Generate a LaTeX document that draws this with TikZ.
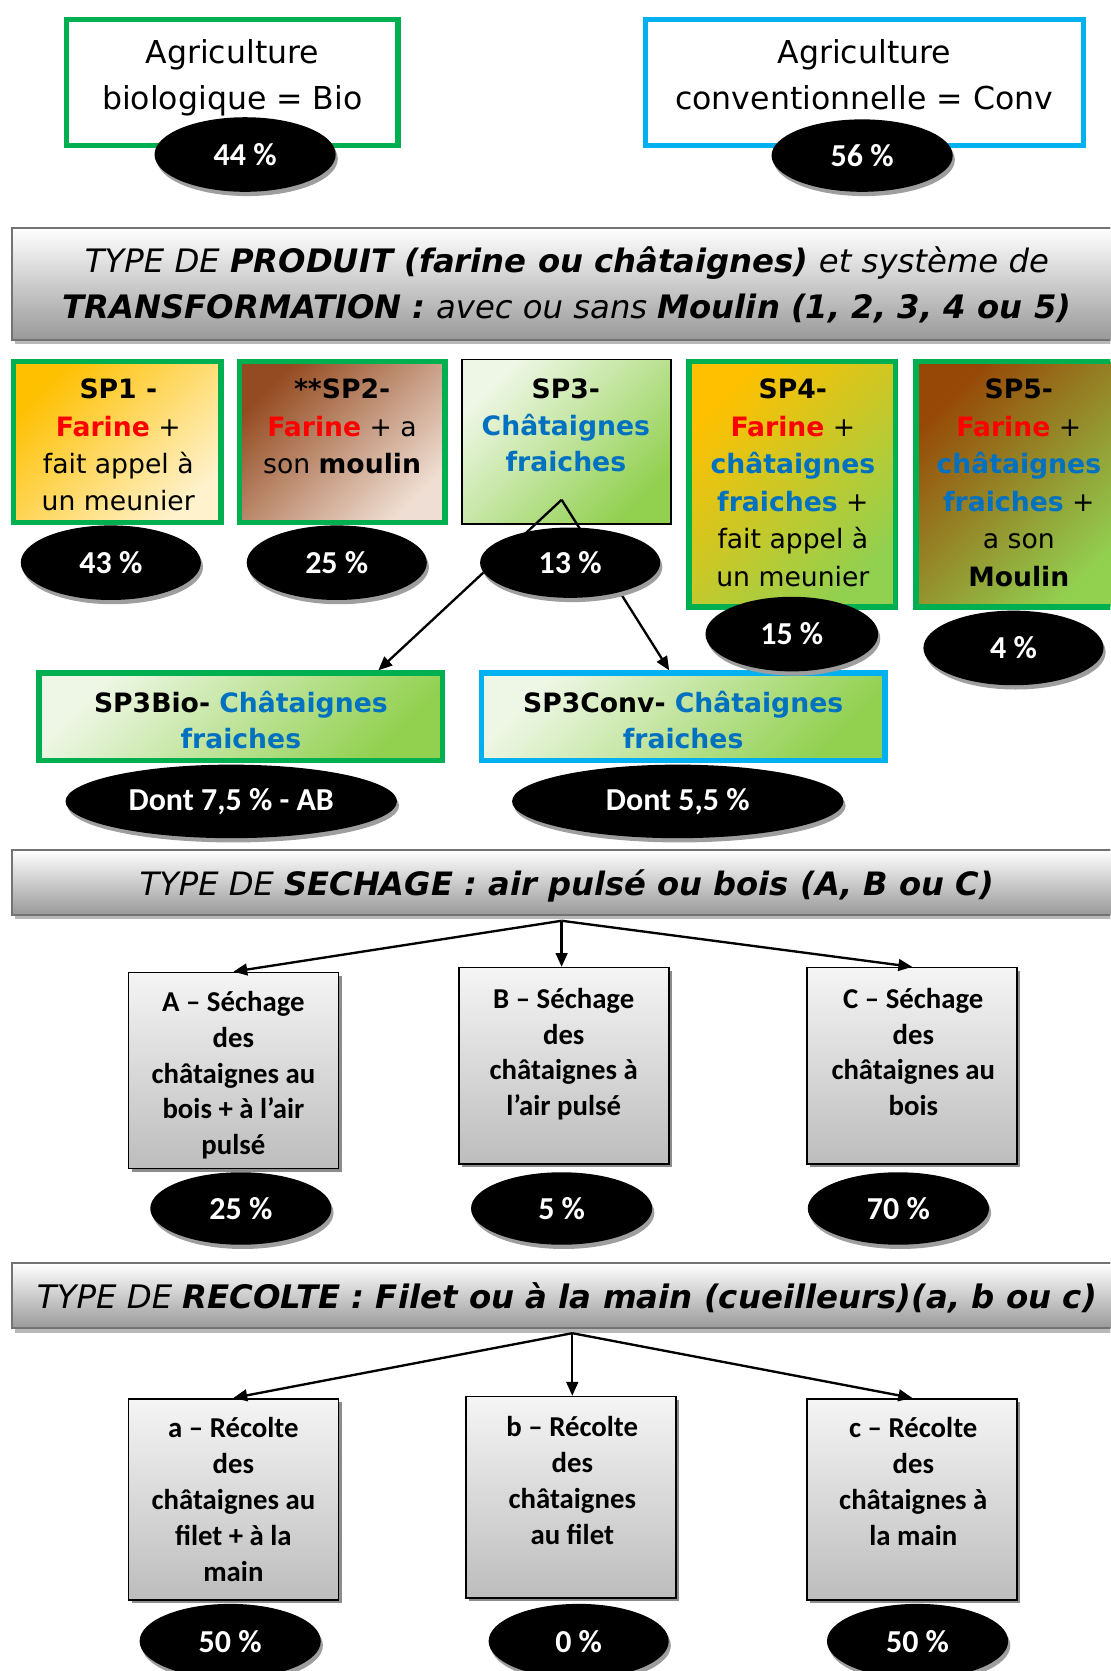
\documentclass[tikz,border=0pt]{standalone}
\usepackage{fontspec}
\setmainfont{DejaVu Sans}[ItalicFont={DejaVu Sans Oblique},BoldFont={DejaVu Sans Bold},BoldItalicFont={DejaVu Sans Bold Oblique}]
\newfontfamily\calfont{Carlito}
\usetikzlibrary{arrows.meta,shapes.geometric,shadows,calc}
\definecolor{grB}{HTML}{00B050}
\definecolor{blB}{HTML}{00B0F0}
\definecolor{txR}{HTML}{FF0000}
\definecolor{txB}{HTML}{0070C0}
\definecolor{gold}{HTML}{FFC000}
\definecolor{cream}{HTML}{FFF2CC}
\definecolor{brownA}{HTML}{944B21}
\definecolor{beigeA}{HTML}{EFDED3}
\definecolor{brownB}{HTML}{974806}
\definecolor{lgreen}{HTML}{EEF7E6}
\definecolor{mgreen}{HTML}{92D050}
\begin{document}
\begin{tikzpicture}[x=1pt,y=-1pt,
  agbox/.style={line width=5pt, fill=white, inner sep=0pt},
  spbox/.style={draw=grB, line width=5pt, inner sep=0pt},
  graybox/.style={draw=black, line width=1.5pt, inner sep=0pt, top color=black!4, bottom color=black!26,
     drop shadow={shadow xshift=3pt, shadow yshift=-3pt, fill=black!45, opacity=1}},
  hdr/.style={draw=black!55, line width=2pt, inner sep=0pt, top color=white, bottom color=black!40,
     drop shadow={shadow xshift=3pt, shadow yshift=-4pt, fill=black!28, opacity=1}},
  pct/.style={ellipse, fill=black, text=white, inner sep=0pt,
     font=\calfont\bfseries\fontsize{30}{36}\selectfont,
     drop shadow={shadow xshift=2pt, shadow yshift=-4pt, fill=black!38, opacity=1}},
  txt/.style={inner sep=0pt, align=center, anchor=north},
  arr/.style={line width=2.2pt, -{Triangle[length=13pt,width=11pt]}},
  spfont/.style={font=\fontsize{25}{35}\selectfont},
  calbox/.style={font=\calfont\bfseries\fontsize{27}{33.6}\selectfont}
]
\useasboundingbox (0,0) rectangle (1042,1568);
\clip (0,0) rectangle (1042,1568);

% ---------- top ----------
\node[agbox, draw=grB, minimum width=311pt, minimum height=118pt] (bio) at (218,77.5) {};
\node[txt, font=\fontsize{29.6}{43}\selectfont] (tbio) at (218,37) {Agriculture\\biologique = Bio};
\node[pct, minimum width=170pt, minimum height=70pt] (p44) at (230,145) {44 \%};

\node[agbox, draw=blB, minimum width=411pt, minimum height=118pt] (conv) at (811,77.5) {};
\node[txt, font=\fontsize{29.6}{43}\selectfont] (tconv) at (811,37) {Agriculture\\conventionnelle = Conv};
\node[pct, minimum width=170pt, minimum height=68pt] (p56) at (809,146) {56 \%};

% ---------- header 1 ----------
\node[hdr, minimum width=1042pt, minimum height=105pt] (h1) at (532,266.5) {};
\node[txt, font=\fontsize{30.3}{43}\selectfont] (th1) at (532,231.4)
  {\textit{TYPE DE }\textbf{\textit{PRODUIT (farine ou châtaignes)}}\textit{ et système de}\\
   \textbf{\textit{TRANSFORMATION :}}\textit{ avec ou sans }\textbf{\textit{Moulin (1, 2, 3, 4 ou 5)}}};

% ---------- SP boxes ----------
\node[spbox, top color=gold, bottom color=cream, shading angle=45, minimum width=195pt, minimum height=151pt] (sp1) at (110,415) {};
\node[txt, spfont] (tsp1) at (111,355.5) {\textbf{SP1 -}\\\textcolor{txR}{\textbf{Farine}} +\\fait appel à\\un meunier};

\node[spbox, top color=brownA, bottom color=beigeA, shading angle=45, minimum width=193pt, minimum height=151pt] (sp2) at (321,415) {};
\node[txt, spfont] (tsp2) at (321,355.5) {\textbf{**SP2-}\\\textcolor{txR}{\textbf{Farine}} + a\\son \textbf{moulin}};

\node[draw=black, line width=1.5pt, inner sep=0pt, top color=lgreen, bottom color=mgreen, shading angle=45, minimum width=196pt, minimum height=154pt] (sp3) at (531.5,414.5) {};
\node[txt, font=\fontsize{25}{34}\selectfont] (tsp3) at (531,355.5) {\textbf{SP3-}\\\textcolor{txB}{\textbf{Châtaignes}}\\\textcolor{txB}{\textbf{fraiches}}};

\node[spbox, top color=gold, bottom color=mgreen, shading angle=45, minimum width=194pt, minimum height=230pt] (sp4) at (743.5,454.5) {};
\node[txt, font=\fontsize{25}{35.2}\selectfont] (tsp4) at (744,355.5) {\textbf{SP4-}\\\textcolor{txR}{\textbf{Farine}} +\\\textcolor{txB}{\textbf{châtaignes}}\\\textcolor{txB}{\textbf{fraiches}} +\\fait appel à\\un meunier};

\node[spbox, top color=brownB, bottom color=mgreen, shading angle=45, minimum width=193pt, minimum height=230pt] (sp5) at (956,454.5) {};
\node[txt, font=\fontsize{25}{35.2}\selectfont] (tsp5) at (956,355.5) {\textbf{SP5-}\\\textcolor{txR}{\textbf{Farine}} +\\\textcolor{txB}{\textbf{châtaignes}}\\\textcolor{txB}{\textbf{fraiches}} +\\a son\\\textbf{Moulin}};

% ---------- SP3 sub boxes ----------
\node[spbox, top color=lgreen, bottom color=mgreen, shading angle=45, minimum width=379pt, minimum height=82pt] (sp3bio) at (226,672.5) {};
\node[txt, font=\fontsize{25}{34}\selectfont] (tsp3bio) at (226,648.5) {\textbf{SP3Bio- }\textcolor{txB}{\textbf{Châtaignes}}\\\textcolor{txB}{\textbf{fraiches}}};

\node[spbox, draw=blB, top color=lgreen, bottom color=mgreen, shading angle=45, minimum width=379pt, minimum height=82pt] (sp3conv) at (641,672.5) {};
\node[txt, font=\fontsize{25}{34}\selectfont] (tsp3conv) at (641,648.5) {\textbf{SP3Conv- }\textcolor{txB}{\textbf{Châtaignes}}\\\textcolor{txB}{\textbf{fraiches}}};

\coordinate (s3) at (527,469);
\coordinate (bioin) at ($(sp3bio.north west)!0.836!(sp3bio.north east)$);
\coordinate (convin) at ($(sp3conv.north west)!0.466!(sp3conv.north east)$);
\draw[arr] (s3) -- (bioin);
\draw[arr] (s3) -- (convin);

\node[pct, minimum width=169pt, minimum height=70pt] (p43) at (104,528) {43 \%};
\node[pct, minimum width=169pt, minimum height=70pt] (p25a) at (316,528) {25 \%};
\node[pct, minimum width=169pt, minimum height=66pt] (p13) at (535,528) {13 \%};
\node[pct, minimum width=162pt, minimum height=70pt] (p15) at (743,595) {15 \%};
\node[pct, minimum width=169pt, minimum height=70pt] (p4) at (951,608) {4 \%};
\node[pct, minimum width=311pt, minimum height=69pt] (pbio) at (217,752) {Dont 7,5 \% - AB};
\node[pct, minimum width=311pt, minimum height=69pt] (pconv) at (636,752) {Dont 5,5 \%};

% ---------- header 2 ----------
\node[hdr, minimum width=1042pt, minimum height=61pt] (h2) at (532,828) {};
\node[txt, font=\fontsize{30.2}{36}\selectfont] (th2) at (532,815.5)
  {\textit{TYPE DE }\textbf{\textit{SECHAGE : air pulsé ou bois (A, B ou C)}}};

\node[graybox, minimum width=197pt, minimum height=184pt] (A) at (219,1004.5) {};
\node[txt, calbox] (tA) at (219,930) {A – Séchage\\des\\châtaignes au\\bois + à l’air\\pulsé};
\node[graybox, minimum width=197pt, minimum height=184pt] (B) at (529,1000) {};
\node[txt, calbox] (tB) at (529,927) {B – Séchage\\des\\châtaignes à\\l’air pulsé};
\node[graybox, minimum width=197pt, minimum height=184pt] (C) at (856,1000) {};
\node[txt, calbox] (tC) at (857,927) {C – Séchage\\des\\châtaignes au\\bois};

\coordinate (h2s) at (527,864);
\draw[arr] (h2s) -- (A.north);
\draw[arr] (h2s) -- (h2s |- B.north);
\draw[arr] (h2s) -- (C.north);

\node[pct, minimum width=170pt, minimum height=68pt] (pA) at (226,1134) {25 \%};
\node[pct, minimum width=170pt, minimum height=68pt] (pB) at (527,1134) {5 \%};
\node[pct, minimum width=170pt, minimum height=68pt] (pC) at (843,1134) {70 \%};

% ---------- header 3 ----------
\node[hdr, minimum width=1042pt, minimum height=61pt] (h3) at (532,1216) {};
\node[txt, font=\fontsize{30.4}{36}\selectfont] (th3) at (532,1203.4)
  {\textit{TYPE DE }\textbf{\textit{RECOLTE : Filet ou à la main (cueilleurs)(a, b ou c)}}};

\node[graybox, minimum width=197pt, minimum height=189pt] (ra) at (219,1407) {};
\node[txt, calbox] (tra) at (219,1330) {a – Récolte\\des\\châtaignes au\\filet + à la\\main};
\node[graybox, minimum width=197pt, minimum height=189pt] (rb) at (536,1405) {};
\node[txt, calbox] (trb) at (537,1329) {b – Récolte\\des\\châtaignes\\au filet};
\node[graybox, minimum width=197pt, minimum height=189pt] (rc) at (856,1407) {};
\node[txt, calbox] (trc) at (857,1330) {c – Récolte\\des\\châtaignes à\\la main};

\coordinate (h3s) at (537,1251);
\draw[arr] (h3s) -- (ra.north);
\draw[arr] (h3s) -- (h3s |- rb.north);
\draw[arr] (h3s) -- (rc.north);

\node[pct, minimum width=170pt, minimum height=70pt] (pa) at (216,1540) {50 \%};
\node[pct, minimum width=169pt, minimum height=70pt] (pb) at (543,1540) {0 \%};
\node[pct, minimum width=170pt, minimum height=70pt] (pc) at (861,1540) {50 \%};
\end{tikzpicture}
\end{document}
